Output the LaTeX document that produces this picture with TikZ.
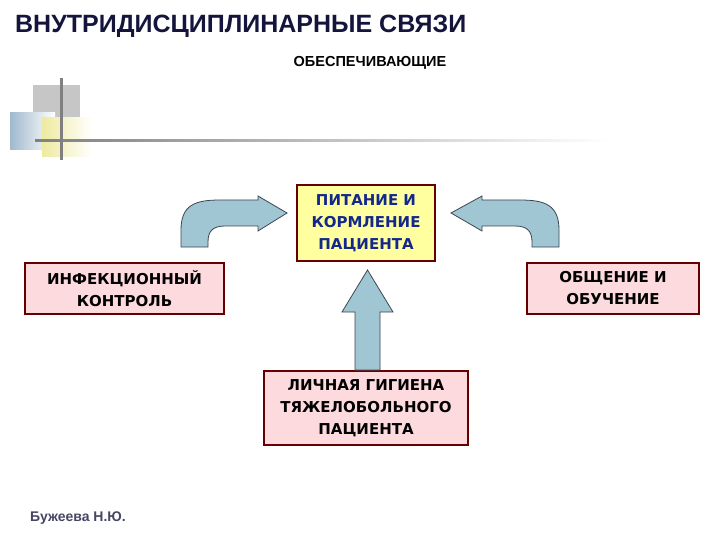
\documentclass[tikz,border=0pt]{standalone}
\usepackage{fontspec}
\setmainfont{Liberation Sans}
\newfontfamily\boxfont{DejaVu Sans}
\begin{document}
\begin{tikzpicture}[x=1pt,y=-1pt,
  box/.style={draw=black!60!red, line width=1.5pt, align=center, font=\boxfont\bfseries\fontsize{15}{22}\selectfont, inner sep=0pt},
  pinkbox/.style={box, fill={rgb,255:red,252;green,218;blue,222}},
  arr/.style={draw={rgb,255:red,60;green,70;blue,80}, fill={rgb,255:red,160;green,198;blue,212}, line width=0.8pt}]
\useasboundingbox (0,0) rectangle (720,540);
% decoration
\fill[gray!45] (33,85) rectangle (80,118);
\shade[left color={rgb,255:red,160;green,185;blue,205}, right color=white] (10,113) rectangle (55,150);
\shade[left color={rgb,255:red,238;green,234;blue,160}, right color=white] (42,118) rectangle (92,157);
\shade[left color=gray, right color=white] (35,140) rectangle (610,142);
\fill[gray] (60,78) rectangle (63,160);
% title
\node[anchor=west, font=\bfseries\fontsize{25}{28}\selectfont, text={rgb,255:red,20;green,20;blue,60}, inner sep=0pt] (title) at (15,26) {ВНУТРИДИСЦИПЛИНАРНЫЕ СВЯЗИ};
\node[font=\bfseries\fontsize{14.5}{17}\selectfont] (sub) at (370,63) {ОБЕСПЕЧИВАЮЩИЕ};
% boxes
\node[box, fill={rgb,255:red,255;green,255;blue,160}, text={rgb,255:red,20;green,40;blue,140}, minimum width=138, minimum height=76] (top) at (366,223) {ПИТАНИЕ И\\КОРМЛЕНИЕ\\ПАЦИЕНТА};
\node[pinkbox, minimum width=199, minimum height=51] (left) at (124.5,288.5) {ИНФЕКЦИОННЫЙ\\КОНТРОЛЬ};
\node[pinkbox, minimum width=172, minimum height=51] (right) at (613,288.5) {ОБЩЕНИЕ И\\ОБУЧЕНИЕ};
\node[pinkbox, minimum width=204, minimum height=74] (bot) at (366,408) {ЛИЧНАЯ ГИГИЕНА\\ТЯЖЕЛОБОЛЬНОГО\\ПАЦИЕНТА};
% up arrow
\draw[arr] (355,370) -- (355,312) -- (342,312) -- (367.5,270) -- (393,312) -- (380,312) -- (380,370) -- cycle;
% left curved arrow
\draw[arr] (181,247) -- (181,230) .. controls (181,205) and (195,200) .. (220,200) -- (258,200) -- (258,196) -- (287,213) -- (258,231) -- (258,226) -- (225,226) .. controls (212,226) and (208,232) .. (208,242) -- (208,247) -- cycle;
% right curved arrow
\draw[arr] (559,247) -- (559,230) .. controls (559,205) and (545,200) .. (520,200) -- (482,200) -- (482,196) -- (451,213) -- (482,231) -- (482,226) -- (515,226) .. controls (528,226) and (532,232) .. (532,242) -- (532,247) -- cycle;
% footer
\node[anchor=west, font=\bfseries\fontsize{14}{16}\selectfont, text={rgb,255:red,70;green,70;blue,100}, inner sep=0pt] (foot) at (30,518) {Бужеева Н.Ю.};
\end{tikzpicture}
\end{document}
